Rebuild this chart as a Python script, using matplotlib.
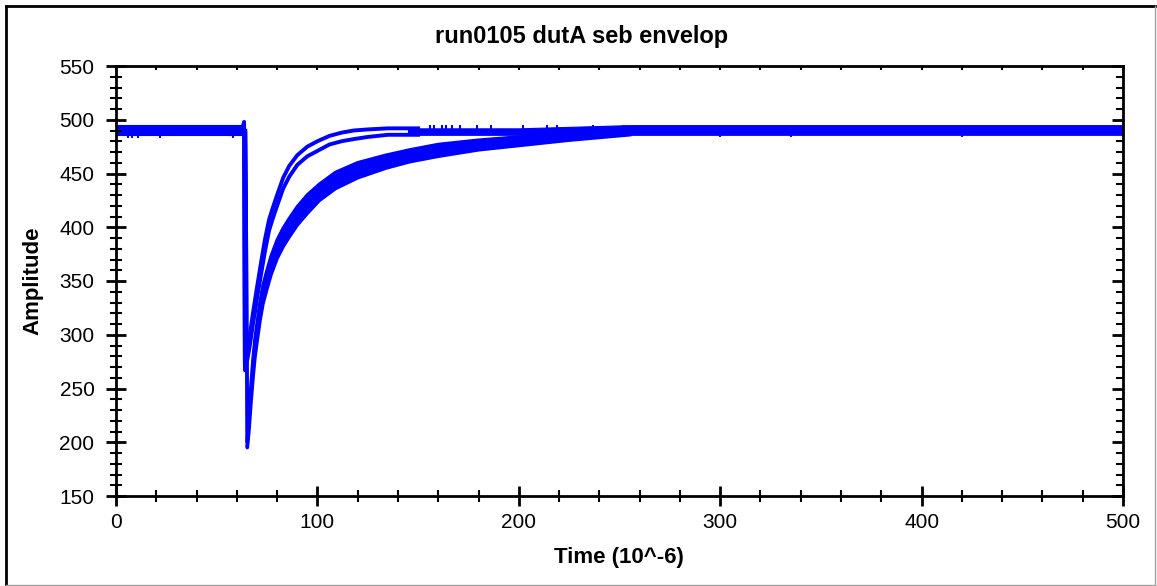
import matplotlib
matplotlib.use("Agg")
import matplotlib.pyplot as plt
from matplotlib.lines import Line2D
from matplotlib.ticker import MultipleLocator

plt.rcParams['font.family'] = ['Liberation Sans', 'DejaVu Sans']

BLUE = '#0000ff'

# flat baseline before the pulse
base_x = [0, 63.5]
base_hi = [495, 495]
base_lo = [486, 486]

# steady band after recovery
tail_x = [145, 200, 255, 500]
tail_hi = [492, 492, 495, 495]
tail_lo = [486, 486, 486, 486]

# fast recovering trace (upper curve)
fast_x = [63.0, 63.6, 64.0, 65.0, 66.0, 67.0, 68.0, 69.0, 70.0, 72.0, 74.0, 76.0, 78.0, 80.0,
          83.0, 86.0, 90.0, 95.0, 100.0, 106.0, 112.0, 118.0, 125.0, 135.0, 150.0]
fast_hi = [494, 498, 273, 283, 294, 307, 320, 332, 344, 367, 389, 407, 419, 430,
           446, 457, 467, 475, 480, 485, 488, 490, 491, 492, 492]
fast_lo = [488, 488, 267, 275, 285, 297, 310, 321, 334, 356, 378, 397, 409, 420,
           436, 447, 458, 466, 471, 477, 480, 482, 484, 486, 486]

# slow recovering trace (lower curve)
slow_x = [64.3, 64.6, 65.2, 66.0, 67.0, 68.0, 69.0, 70.0, 71.5, 73.0, 75.0, 77.0, 80.0, 83.0,
          86.0, 90.0, 95.0, 101.0, 109.0, 120.0, 134.0, 146.0, 160.0, 180.0, 200.0, 225.0, 255.0]
slow_hi = [490, 428, 200, 226, 253, 277, 296, 310, 330, 346, 360, 373, 388, 399,
           408, 419, 430, 440, 451, 460, 467, 472, 477, 481, 484, 487, 490]
slow_lo = [488, 428, 195, 210, 236, 259, 279, 293, 313, 329, 343, 356, 371, 382,
           391, 402, 413, 425, 436, 446, 455, 461, 466, 472, 476, 481, 486]

# short noise spikes on the baseline
spike_dn_x = [6, 8, 11, 22, 58, 232, 238, 300, 335, 420]
spike_dn_y = [483, 483, 483, 483, 483, 483, 483, 484, 484, 484]
spike_up_x = [156, 158, 162, 164, 167, 171, 179, 186, 202, 214, 219, 237, 252]
spike_up_y = [495, 495, 495, 495, 495, 495, 495, 495, 495, 495, 495, 495, 495]

fig = plt.figure(figsize=(11.57, 5.86), dpi=100)
ax = fig.add_axes([116 / 1157, 1 - 496 / 586, (1123 - 116) / 1157, (496 - 66) / 586])

ax.fill_between(base_x, base_lo, base_hi, color=BLUE, lw=0.8)
ax.fill_between(tail_x, tail_lo, tail_hi, color=BLUE, lw=0.8)
ax.fill_between(slow_x, slow_lo, slow_hi, color=BLUE, lw=0)
for ys in (slow_hi, slow_lo):
    ax.plot(slow_x, ys, color=BLUE, lw=2.5)
for ys in (fast_hi, fast_lo):
    ax.plot(fast_x, ys, color=BLUE, lw=2.8)
ax.vlines(spike_dn_x, 488, spike_dn_y, color=BLUE, lw=1.5)
ax.vlines(spike_up_x, 489, spike_up_y, color=BLUE, lw=1.5)

ax.set_xlim(0, 500)
ax.set_ylim(150, 550)
ax.xaxis.set_major_locator(MultipleLocator(100))
ax.xaxis.set_minor_locator(MultipleLocator(20))
ax.yaxis.set_major_locator(MultipleLocator(50))
ax.yaxis.set_minor_locator(MultipleLocator(10))

for s in ax.spines.values():
    s.set_linewidth(2)
    s.set_color('black')

ax.tick_params(which='major', direction='inout', length=15, width=2, labelsize=15, colors='black')
ax.tick_params(which='minor', direction='inout', length=9, width=1.5)
ax.tick_params(axis='x', which='major', pad=5)
ax.tick_params(axis='y', which='major', pad=8)

top = ax.secondary_xaxis('top')
top.xaxis.set_major_locator(MultipleLocator(20))
top.tick_params(direction='in', length=3, width=1.5, labeltop=False)
right = ax.secondary_yaxis('right')
right.yaxis.set_major_locator(MultipleLocator(50))
right.yaxis.set_minor_locator(MultipleLocator(10))
right.tick_params(which='major', direction='in', length=8, width=2, labelright=False)
right.tick_params(which='minor', direction='in', length=5, width=1.5)

fig.text(582 / 1157, 1 - 37 / 586, 'run0105 dutA seb envelop', ha='center', va='center',
         fontsize=17, fontweight='bold')
fig.text(619 / 1157, 1 - 557 / 586, 'Time (10^-6)', ha='center', va='center',
         fontsize=16, fontweight='bold')
fig.text(33 / 1157, 1 - 281 / 586, 'Amplitude', ha='center', va='center', rotation=90,
         fontsize=16, fontweight='bold')

# outer frame of the window
fig.add_artist(Line2D([6 / 1157, 6 / 1157], [1 - 585 / 586, 1 - 6 / 586], color='black', lw=2))
fig.add_artist(Line2D([6 / 1157, 1155 / 1157], [1 - 6 / 586, 1 - 6 / 586], color='black', lw=2))
fig.add_artist(Line2D([1155 / 1157, 1155 / 1157], [1 - 585 / 586, 1 - 6 / 586], color='#a0a0a0', lw=1))
fig.add_artist(Line2D([6 / 1157, 1155 / 1157], [1 - 585 / 586, 1 - 585 / 586], color='#a0a0a0', lw=1))

fig.savefig('out.png', dpi=100)
